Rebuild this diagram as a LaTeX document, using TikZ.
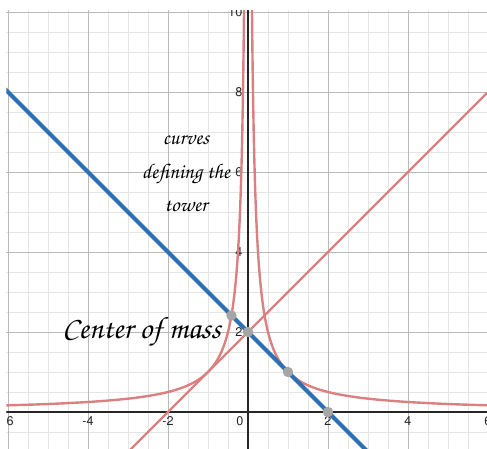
\documentclass[tikz,border=0pt]{standalone}
\usepackage[T1]{fontenc}
\newcommand\chanfont{\fontencoding{T1}\fontfamily{pzc}\fontseries{mb}\fontshape{it}\selectfont}
\newcommand\tickfont{\fontencoding{T1}\fontfamily{phv}\fontseries{m}\fontshape{n}\selectfont}
\definecolor{curvered}{RGB}{218,128,128}
\definecolor{lineblue}{RGB}{45,112,179}
\definecolor{ptgray}{RGB}{165,165,165}
\begin{document}
\begin{tikzpicture}[x=1cm,y=1cm,
  minorgrid/.style={draw=black!10, line width=0.5pt},
  majorgrid/.style={draw=black!27, line width=0.6pt},
  axisline/.style={draw=black!85, line width=0.9pt},
  redcurve/.style={draw=curvered, line width=1.7pt},
  bluecurve/.style={draw=lineblue, line width=2.8pt},
  dotpt/.style={circle, fill=ptgray, inner sep=0pt, minimum size=0.26cm},
  ticklab/.style={font=\tickfont\fontsize{9}{10}\selectfont, text=black!85, inner sep=1pt},
  scripttext/.style={text=black, align=center, inner sep=0pt}]
\useasboundingbox (-6.2,-0.925) rectangle (5.975,10.3);
\begin{scope}
\clip (-6.0375,-0.925) rectangle (5.975,10.025);
\draw[minorgrid] (-7,-1.5) grid[step=0.5] (7,11);
\draw[majorgrid] (-8,-2) grid[step=2] (8,12);
\draw[axisline] (-7,0) -- (7,0);
\draw[axisline] (0,-1.5) -- (0,11);
\foreach \v in {-6,-4,-2,2,4,6} \node[ticklab] (xl\v) at (\v,-0.225) {\v};
\node[ticklab] (xl0) at (-0.2,-0.225) {0};
\foreach \v in {2,4,6,8,10} \node[ticklab, anchor=east] (yl\v) at (-0.1,\v) {\v};
\draw[redcurve] plot[variable=\t, domain=-1.82:2.4, samples=160] ({-exp(-\t)},{exp(\t)});
\draw[redcurve] plot[variable=\t, domain=-1.82:2.4, samples=160] ({exp(-\t)},{exp(\t)});
\draw[redcurve] (-3,-1) -- (8.5,10.5);
\draw[bluecurve] (-7,9) -- (3.5,-1.5);
\node[dotpt] (p1) at (2,0) {};
\node[dotpt] (p2) at (1,1) {};
\node[dotpt] (p3) at (0,2) {};
\node[dotpt] (p4) at ({1-sqrt(2)},{1+sqrt(2)}) {};
\end{scope}
\node[scripttext, font=\chanfont\fontsize{15}{24}\selectfont] (tower) at (-1.55,5.975) {curves\\defining the\\tower};
\node[scripttext, font=\chanfont\fontsize{22}{26}\selectfont] (com) at (-2.66,2.0) {Center of mass};
\end{tikzpicture}
\end{document}
